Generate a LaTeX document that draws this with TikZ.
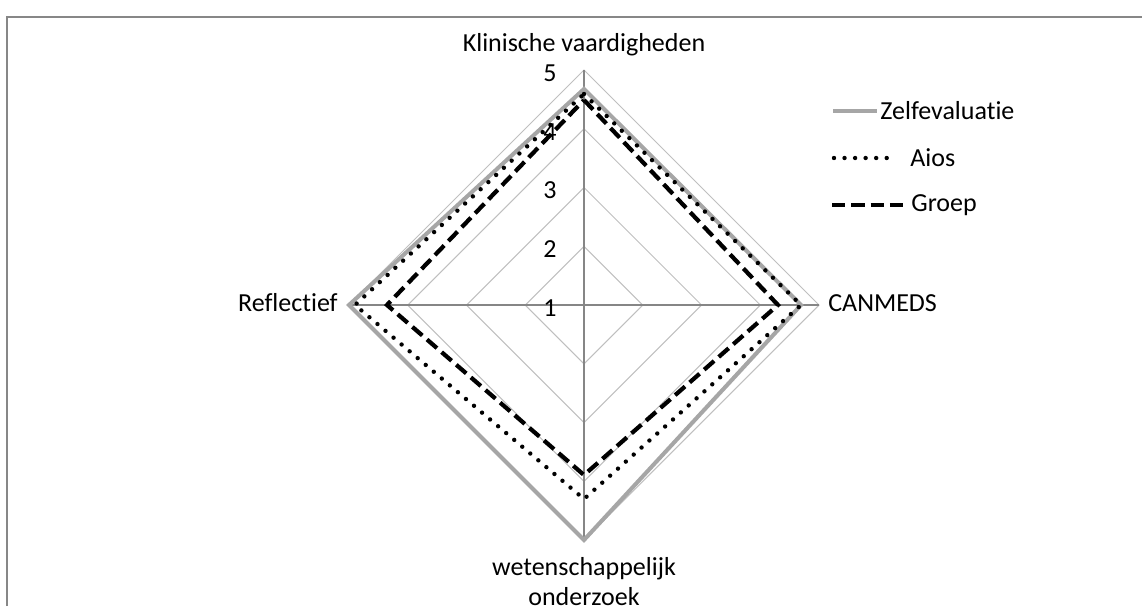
\documentclass[tikz,border=0pt]{standalone}
\usepackage{fontspec}
\setmainfont{Carlito}[Ligatures=NoCommon]
\usepackage{tikz}
\definecolor{ringgray}{RGB}{191, 191, 191}
\definecolor{spokegray}{RGB}{134, 134, 134}
\definecolor{zelfgray}{RGB}{166, 166, 166}
\definecolor{framegray}{RGB}{135, 135, 135}

\tikzset{
    ringline/.style={draw=ringgray, line width=0.6pt},
    spokeline/.style={draw=spokegray, line width=0.6pt},
    zelfline/.style={draw=zelfgray, line width=2.3pt},
    aiosline/.style={draw=black, line width=2.5pt, line cap=round, dash pattern=on 0pt off 6pt},
    groepline/.style={draw=black, line width=2.4pt, dash pattern=on 7.5pt off 3.5pt},
    chartlabel/.style={font=\fontsize{14.8}{17.1}\selectfont, inner sep=0pt}
}

\begin{document}
\begin{tikzpicture}[x=0.02cm, y=0.02cm]
    \useasboundingbox (-584,-301) rectangle (558,305);

    % Outer frame (only top and left edge are visible)
    \draw[framegray, line width=1.5pt] (-577,-301) -- (-577,288) -- (558,288);

    % Grid rings for 2, 3, 4 and 5
    \draw[ringline] (0,58.75) -- (58.75,0) -- (0,-58.75) -- (-58.75,0) -- cycle;
    \draw[ringline] (0,117.5) -- (117.5,0) -- (0,-117.5) -- (-117.5,0) -- cycle;
    \draw[ringline] (0,176.25) -- (176.25,0) -- (0,-176.25) -- (-176.25,0) -- cycle;
    \draw[ringline] (0,235) -- (235,0) -- (0,-235) -- (-235,0) -- cycle;

    % Spokes
    \draw[spokeline] (0,235) -- (0,-235);
    \draw[spokeline] (-235,0) -- (235,0);

    % Scale values
    \node[chartlabel] (tick1) at (-34,-3) {1};
    \node[chartlabel] (tick2) at (-34,55.75) {2};
    \node[chartlabel] (tick3) at (-34,114.5) {3};
    \node[chartlabel] (tick4) at (-34,173.25) {4};
    \node[chartlabel] (tick5) at (-34,232) {5};

    % Series
    \draw[zelfline] (0,216) -- (217,0) -- (0,-235) -- (-235,0) -- cycle;
    \draw[aiosline] (0,211) -- (217,0) -- (0,-194) -- (-229,0) -- cycle;
    \draw[groepline] (0,205) -- (194,0) -- (0,-170) -- (-197,0) -- cycle;

    % Axis labels
    \node[chartlabel] (klinisch) at (0,260.5) {Klinische vaardigheden};
    \node[chartlabel, anchor=base west] (canmeds) at (244,-6) {CANMEDS};
    \node[chartlabel, anchor=base east] (reflectief) at (-246,-6) {Reflectief};
    \node[chartlabel, align=center, anchor=north] (wetensch) at (0,-252) {wetenschappelijk\\onderzoek};

    % Legend
    \draw[zelfline] (249,194) -- (293,194);
    \node[chartlabel, anchor=west] (legzelf) at (296,194) {Zelfevaluatie};
    \draw[aiosline] (250,147) -- (313,147);
    \node[chartlabel, anchor=west] (legaios) at (326,147) {Aios};
    \draw[groepline] (248,100) -- (320,100);
    \node[chartlabel, anchor=west] (leggroep) at (327,100) {Groep};
\end{tikzpicture}
\end{document}
